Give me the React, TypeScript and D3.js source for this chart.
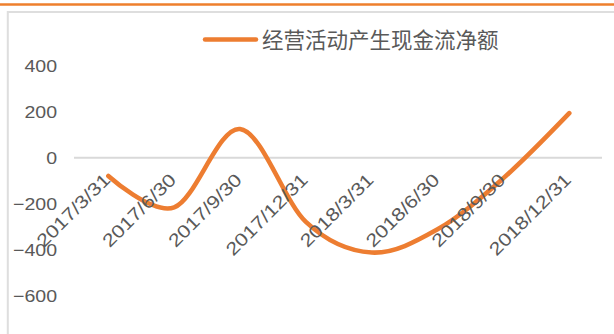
import React from "react";
import * as d3 from "d3";

const categories = [
  "2017/3/31",
  "2017/6/30",
  "2017/9/30",
  "2017/12/31",
  "2018/3/31",
  "2018/6/30",
  "2018/9/30",
  "2018/12/31",
];
const cashFlow = [-79, -215, 125, -278, -411, -310, -88, 194];
const yTicks = [400, 200, 0, -200, -400, -600];
const seriesName = "经营活动产生现金流净额";

const W = 614;
const H = 334;
const ORANGE = "#ED7D31";
const TEXT = "#595959";

export default function App() {
  const x = d3.scaleBand<string>().domain(categories).range([75.4, 602.2]);
  const y = d3.scaleLinear().domain([-600, 400]).range([296.1, 65.7]);
  const cx = (c: string) => (x(c) as number) + x.bandwidth() / 2;

  const line = d3
    .line<number>()
    .x((_, i) => cx(categories[i]))
    .y((d) => y(d))
    .curve(d3.curveCardinal.tension(0));

  return (
    <svg
      width={W}
      height={H}
      style={{ position: "fixed", left: 0, top: 0, background: "#fff" }}
    >
      <rect x={0} y={0} width={W} height={H} fill="#fff" />
      <line x1={0} x2={W} y1={4.5} y2={4.5} stroke="#EE7F2D" strokeWidth={2.6} />
      <rect
        x={7.8}
        y={12}
        width={W + 20}
        height={H + 20}
        fill="#fff"
        stroke="#DEDEDE"
        strokeWidth={2}
      />

      {/* legend */}
      <line
        x1={205}
        x2={256}
        y1={39.5}
        y2={39.5}
        stroke={ORANGE}
        strokeWidth={4.5}
        strokeLinecap="round"
      />
      <text
        x={262}
        y={40}
        dy="0.36em"
        fontFamily="'Noto Sans CJK SC', sans-serif"
        fontSize={21.5}
        fill={TEXT}
      >
        {seriesName}
      </text>

      {/* y axis labels */}
      {yTicks.map((t) => (
        <text
          key={t}
          transform={`translate(57,${y(t)}) scale(1.15,1)`}
          dy="0.36em"
          textAnchor="end"
          fontFamily="'Liberation Sans', Arial, sans-serif"
          fontSize={17}
          fill={TEXT}
        >
          {t < 0 ? "\u2212" + Math.abs(t) : String(t)}
        </text>
      ))}

      {/* zero line */}
      <line
        x1={74}
        x2={602}
        y1={y(0)}
        y2={y(0)}
        stroke="#D9D9D9"
        strokeWidth={2}
      />

      {/* series */}
      <path
        d={line(cashFlow) || ""}
        fill="none"
        stroke={ORANGE}
        strokeWidth={4.6}
        strokeLinecap="round"
        strokeLinejoin="round"
      />

      {/* x axis labels */}
      {categories.map((c) => (
        <text
          key={c}
          transform={`translate(${cx(c) + 3},181) rotate(-45) scale(1.19,1)`}
          textAnchor="end"
          fontFamily="'Liberation Sans', Arial, sans-serif"
          fontSize={18}
          fill={TEXT}
        >
          {c}
        </text>
      ))}
    </svg>
  );
}
